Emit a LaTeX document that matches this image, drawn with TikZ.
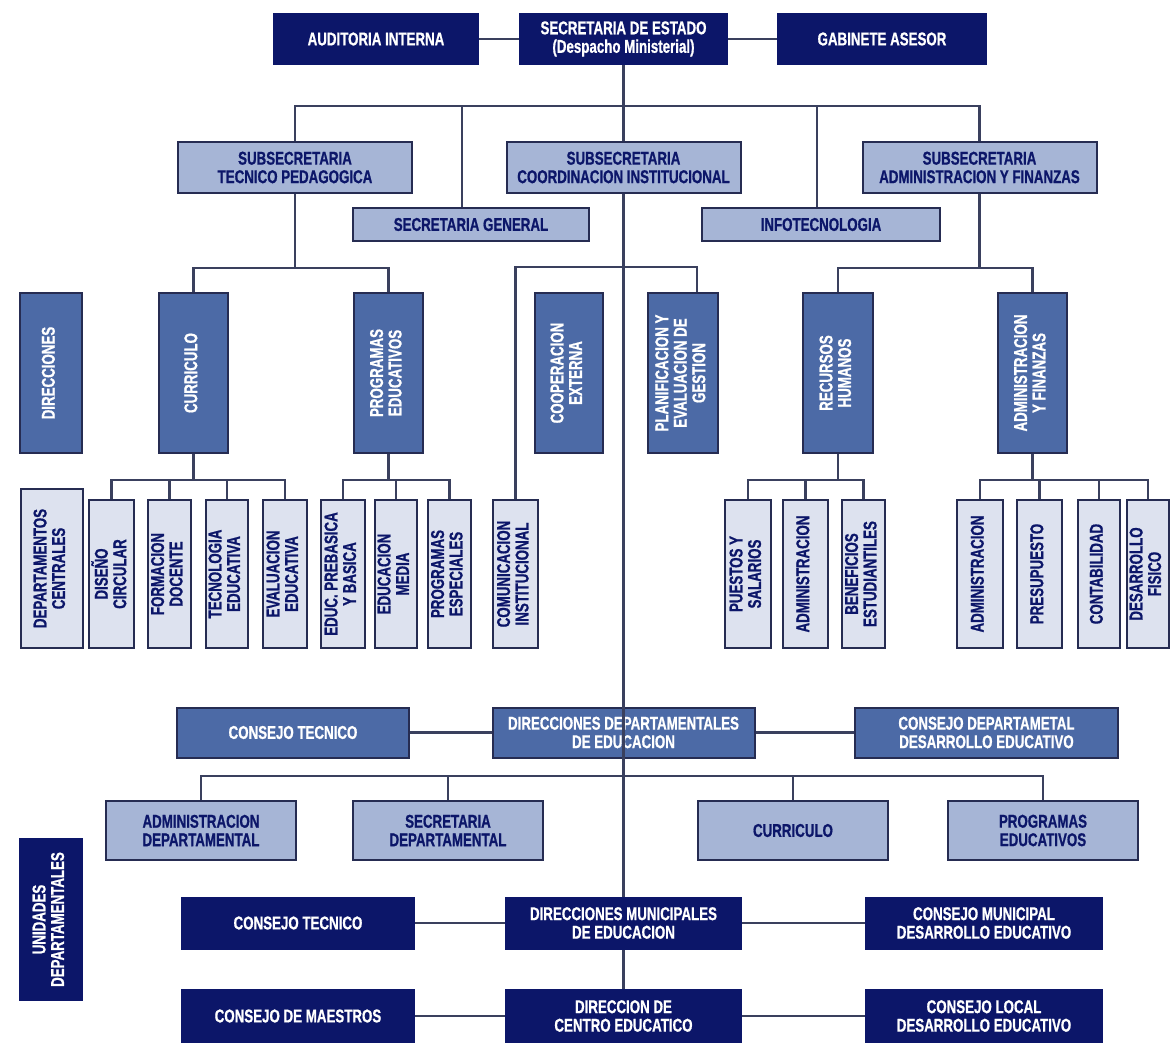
\documentclass[tikz,border=0pt]{standalone}
\usepackage{fontspec}
\usepackage{graphicx}
\newfontfamily\orgfont[FakeStretch=0.72,BoldFeatures={FakeBold=0.8}]{Liberation Sans}

\definecolor{navy}{RGB}{12,22,105}
\definecolor{midblue}{RGB}{76,106,166}
\definecolor{lightblue}{RGB}{166,181,214}
\definecolor{paleblue}{RGB}{221,226,239}
\definecolor{edge}{RGB}{38,44,82}
\definecolor{wire}{RGB}{58,64,94}

\newcommand{\vtext}[1]{\rotatebox{90}{\begin{tabular}{@{}c@{}}#1\end{tabular}}}

\begin{document}
\begin{tikzpicture}[
  x=1pt, y=-1pt,
  org/.style={rectangle,inner sep=0pt,align=center,line width=2pt,
    font=\orgfont\bfseries\fontsize{18.5}{18.5}\selectfont},
  dark/.style={org,draw=navy,fill=navy,text=white},
  mid/.style={org,draw=edge,fill=midblue,text=white},
  light/.style={org,draw=edge,fill=lightblue,text=navy},
  pale/.style={org,draw=edge,fill=paleblue,text=navy},
  link/.style={draw=wire,line width=2.2pt}
]

\fill[white] (0,0) rectangle (1172,1051);
\useasboundingbox (0,0) rectangle (1172,1051);

\node[dark,minimum width=204,minimum height=50] (aud) at (376,39) {AUDITORIA INTERNA};
\node[dark,minimum width=207,minimum height=50] (sec) at (623.5,39) {SECRETARIA DE ESTADO\\(Despacho Ministerial)};
\node[dark,minimum width=208,minimum height=50] (gab) at (882,39) {GABINETE ASESOR};

\foreach \n/\x/\txt in {subtec/295/{SUBSECRETARIA\\TECNICO PEDAGOGICA},
    subcoord/623.5/{SUBSECRETARIA\\COORDINACION INSTITUCIONAL},
    subadm/979.5/{SUBSECRETARIA\\ADMINISTRACION Y FINANZAS}}
  \node[light,minimum width=234,minimum height=51] (\n) at (\x,167.5) {\txt};

\node[light,minimum width=236,minimum height=33] (secgen) at (471,224.5) {SECRETARIA GENERAL};
\node[light,minimum width=238,minimum height=33] (info) at (821,224.5) {INFOTECNOLOGIA};

\foreach \n/\x/\w/\txt in {dir/51/62/DIRECCIONES, curr/193.5/69/CURRICULO,
    prog/388.5/69/{PROGRAMAS\\EDUCATIVOS}, coop/569/68/{COOPERACION\\EXTERNA},
    plan/683/70/{PLANIFICACION Y\\EVALUACION DE\\GESTION},
    rrhh/838/70/{RECURSOS\\HUMANOS}, adfin/1032.5/69/{ADMINISTRACION\\Y FINANZAS}}
  \node[mid,minimum width=\w,minimum height=160] (\n) at (\x,373) {\vtext{\txt}};

\node[pale,minimum width=62,minimum height=159] (deptc) at (52,568.5) {\vtext{DEPARTAMENTOS\\CENTRALES}};
\foreach \n/\x/\w/\txt in {dis/111.5/45/{DISEÑO\\CIRCULAR}, form/169.5/43/{FORMACION\\DOCENTE},
    tec/227/42/{TECNOLOGIA\\EDUCATIVA}, eva/285/44/{EVALUACION\\EDUCATIVA},
    edu/343/44/{EDUC. PREBASICA\\Y BASICA}, med/396/42/{EDUCACION\\MEDIA},
    esp/449.5/43/{PROGRAMAS\\ESPECIALES}, com/515.5/45/{COMUNICACION\\INSTITUCIONAL},
    pue/748/46/{PUESTOS Y\\SALARIOS}, adma/805.5/45/ADMINISTRACION,
    ben/863.5/43/{BENEFICIOS\\ESTUDIANTILES}, admb/980/46/ADMINISTRACION,
    pre/1039.5/45/PRESUPUESTO, con/1099/42/CONTABILIDAD, des/1148/42/{DESARROLLO\\FISICO}}
  \node[pale,minimum width=\w,minimum height=148] (\n) at (\x,574) {\vtext{\txt}};

\node[mid,minimum width=232,minimum height=50] (ctecd) at (293,732.5) {CONSEJO TECNICO};
\node[mid,minimum width=262,minimum height=50] (ddep) at (623.5,732.5) {DIRECCIONES DEPARTAMENTALES\\DE EDUCACION};
\node[mid,minimum width=263,minimum height=50] (cdep) at (986.5,732.5) {CONSEJO DEPARTAMETAL\\DESARROLLO EDUCATIVO};

\foreach \n/\x/\txt in {admdep/201/{ADMINISTRACION\\DEPARTAMENTAL}, secdep/448/{SECRETARIA\\DEPARTAMENTAL},
    curdep/793/CURRICULO, progdep/1043/{PROGRAMAS\\EDUCATIVOS}}
  \node[light,minimum width=190,minimum height=59] (\n) at (\x,830.5) {\txt};

\node[dark,minimum width=62,minimum height=161] (unid) at (51,919.5) {\vtext{UNIDADES\\DEPARTAMENTALES}};
\node[dark,minimum width=232,minimum height=51] (ctecm) at (298,923) {CONSEJO TECNICO};
\node[dark,minimum width=235,minimum height=51] (dmun) at (623.5,923) {DIRECCIONES MUNICIPALES\\DE EDUCACION};
\node[dark,minimum width=236,minimum height=51] (cmun) at (984,923) {CONSEJO MUNICIPAL\\DESARROLLO EDUCATIVO};
\node[dark,minimum width=232,minimum height=52] (cmae) at (298,1016) {CONSEJO DE MAESTROS};
\node[dark,minimum width=235,minimum height=52] (cen) at (623.5,1016) {DIRECCION DE\\CENTRO EDUCATICO};
\node[dark,minimum width=236,minimum height=52] (cloc) at (984,1016) {CONSEJO LOCAL\\DESARROLLO EDUCATIVO};

\draw[link] (aud.east) -- (sec.west);
\draw[link] (sec.east) -- (gab.west);
\draw[link] (sec.south) -- (subcoord.north);
\draw[link] (subcoord.south) -- (dmun.north);
\draw[link] (dmun.south) -- (cen.north);

\coordinate (tbus) at (623.5,106);
\draw[link] (subtec.north) |- (tbus) -| (subadm.north);
\draw[link] ([xshift=-9pt]secgen.north) -- ([xshift=-9pt]secgen.north |- tbus);
\draw[link] ([xshift=-4pt]info.north) -- ([xshift=-4pt]info.north |- tbus);

\draw[link] (subtec.south) -- ++(0,74) coordinate (lbus);
\draw[link] (curr.north) |- (lbus) -| (prog.north);
\coordinate (cbus) at (623.5,267);
\draw[link] (com.north) |- (cbus) -| (plan.80);
\draw[link] (subadm.south) -- ++(0,74) coordinate (rbus);
\draw[link] (rrhh.north) |- (rbus) -| (adfin.north);

\draw[link] (curr.south) -- ++(0,26) coordinate (cb);
\foreach \n in {dis,form,tec,eva} \draw[link] (cb) -| (\n.north);
\draw[link] (prog.south) -- ++(0,26) coordinate (pb);
\foreach \n in {edu,med,esp} \draw[link] (pb) -| (\n.north);
\draw[link] (rrhh.south) -- ++(0,26) coordinate (hb);
\foreach \n in {pue,adma,ben} \draw[link] (hb) -| (\n.north);
\draw[link] (adfin.south) -- ++(0,26) coordinate (fb);
\foreach \n in {admb,pre,con,des} \draw[link] (fb) -| (\n.north);

\draw[link] (ctecd.east) -- (ddep.west);
\draw[link] (ddep.east) -- (cdep.west);
\coordinate (bbus) at (623.5,776);
\draw[link] (admdep.north) |- (bbus) -| (progdep.north);
\draw[link] (secdep.north) -- (secdep.north |- bbus);
\draw[link] (curdep.north) -- (curdep.north |- bbus);

\draw[link] (ctecm.east) -- (dmun.west);
\draw[link] (dmun.east) -- (cmun.west);
\draw[link] (cmae.east) -- (cen.west);
\draw[link] (cen.east) -- (cloc.west);

\end{tikzpicture}
\end{document}
